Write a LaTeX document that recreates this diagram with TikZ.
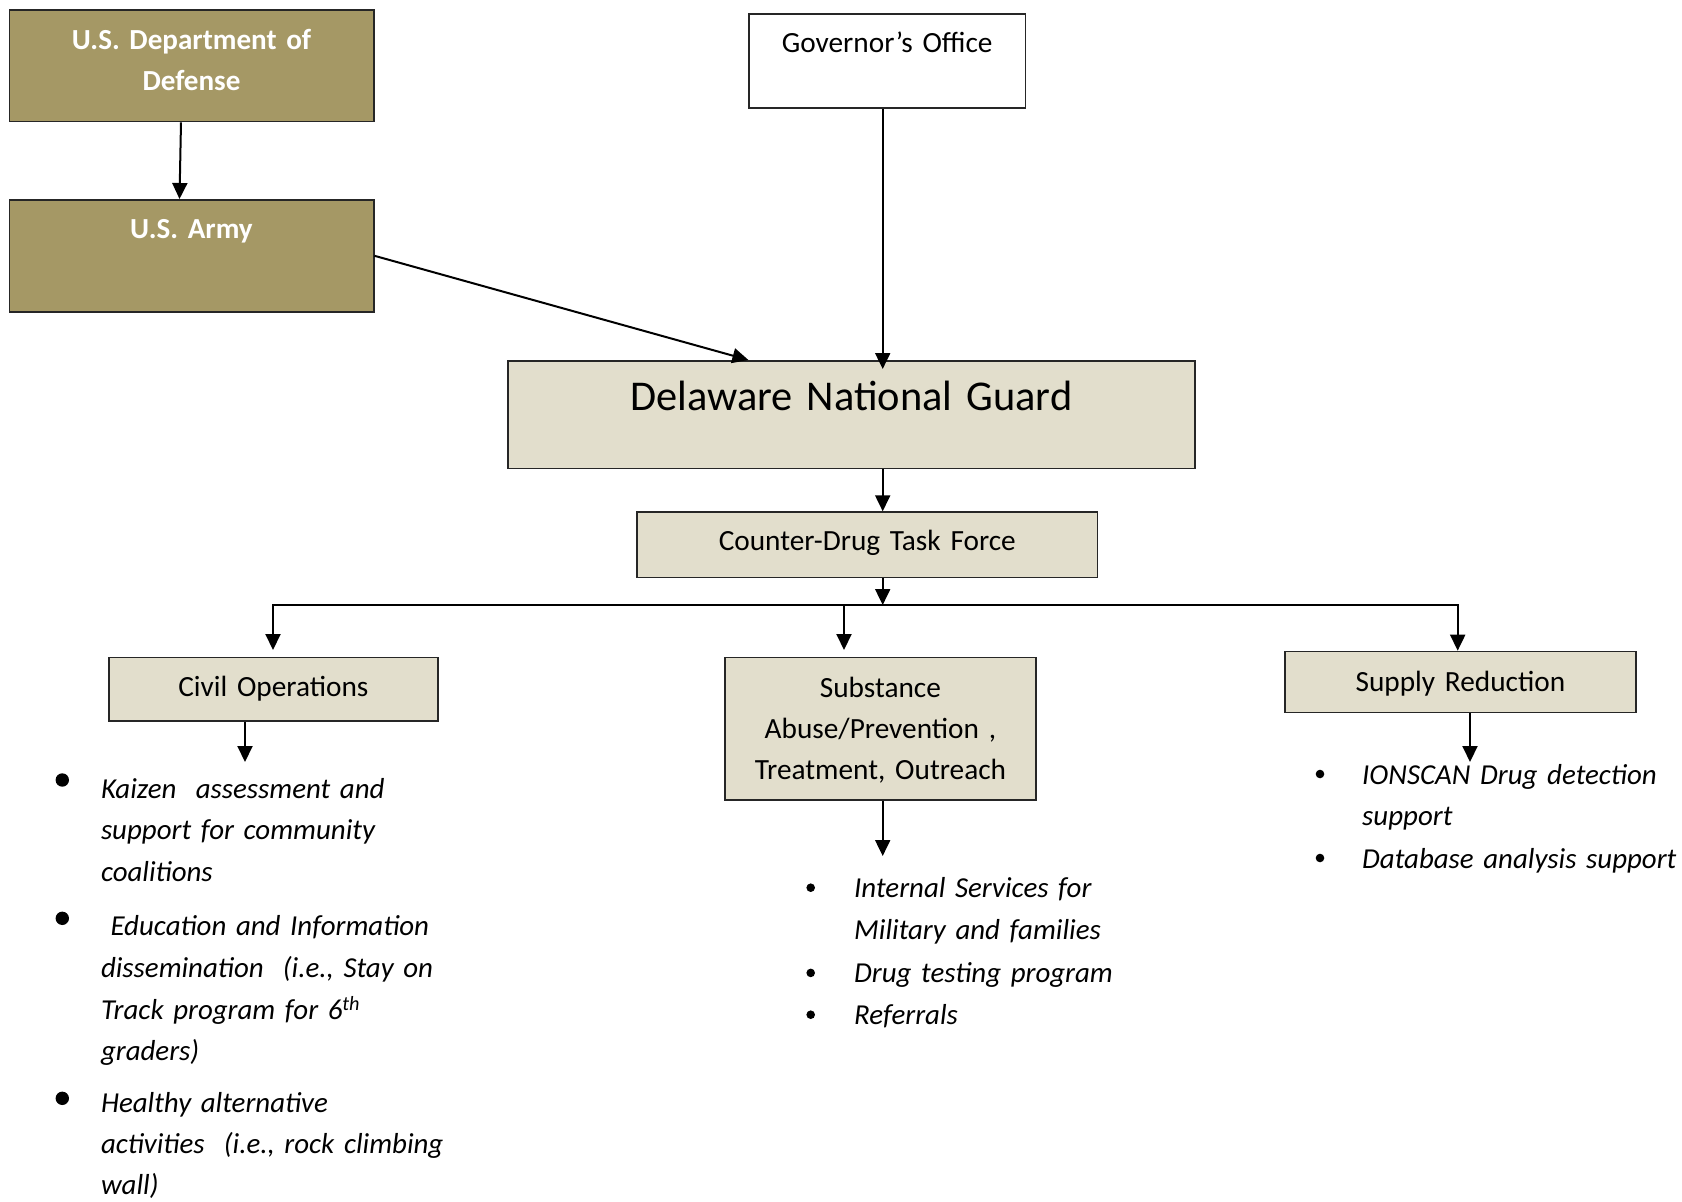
\documentclass[tikz,border=0pt]{standalone}
\usepackage{fontspec}
\setmainfont{Carlito}
\usetikzlibrary{arrows.meta}
\definecolor{dodolive}{RGB}{165,152,101}
\definecolor{tanfill}{RGB}{226,222,204}
\begin{document}
\begin{tikzpicture}[x=1pt,y=-1pt,
	box/.style={draw=black!85, line width=1.6pt, inner sep=0pt, align=center, anchor=north,
		font=\fontsize{29.3}{41}\selectfont},
	olivebox/.style={box, fill=dodolive, text=white, font=\fontsize{29.1}{41}\selectfont\bfseries},
	tanbox/.style={box, fill=tanfill},
	arr/.style={line width=2pt, -{Triangle[length=16pt,width=15pt]}},
	items/.style={inner sep=0pt, anchor=base west, align=left, text width=360pt,
		font=\fontsize{28.9}{41.8}\selectfont\itshape}]
	\path[fill=white, use as bounding box] (0,0) rectangle (1682,1202);
% boxes
	\node[olivebox, text width=364.4pt, text height=39.3pt, text depth=72.4pt] (dod) at (191.5,9) {U.S. Department of\\Defense};
	\node[olivebox, text width=364.4pt, text height=38.3pt, text depth=73.7pt] (army) at (191.5,199) {U.S. Army};
	\node[box, fill=white, text width=276.3pt, text height=38.4pt, text depth=55.6pt] (gov) at (887.2,13.3) {Governor’s Office};
	\node[tanbox, text width=687.3pt, text height=49.3pt, text depth=58.4pt, font=\fontsize{42.4}{50}\selectfont] (dng) at (851.4,360) {Delaware National Guard};
	\node[tanbox, text width=460.2pt, text height=38.7pt, text depth=26.7pt] (cdtf) at (867.3,511.3) {Counter-Drug Task Force};
	\node[tanbox, text width=328.7pt, text height=38.8pt, text depth=24.5pt] (civil) at (273.4,656.7) {Civil Operations};
	\node[tanbox, text width=310.7pt, text height=40.3pt, text depth=102.3pt] (subst) at (880.4,656.7) {Substance\\Abuse/Prevention ,\\Treatment, Outreach};
	\node[tanbox, text width=350.7pt, text height=40.3pt, text depth=20.7pt] (supply) at (1460.4,650.7) {Supply Reduction};
% arrows
	\coordinate (spine) at (882.7,0);
	\coordinate (busL) at (273,605);
	\coordinate (busM) at (844,605);
	\coordinate (busR) at (1457.7,605);
	\draw[arr] ([xshift=-10.5pt]dod.south) -- ([xshift=-12pt]army.north);
	\draw[arr] (army.east) -- ([xshift=-103pt]dng.north);
	\draw[arr, shorten >=-9pt] (spine |- gov.south) -- (spine |- dng.north);
	\draw[arr] (spine |- dng.south) -- (spine |- cdtf.north);
	\draw[arr] (spine |- cdtf.south) -- (spine |- busL);
	\draw[line width=2pt, {Triangle[length=16pt,width=15pt]}-{Triangle[length=16pt,width=15pt]}, shorten <=6.7pt]
		(busL |- civil.north) -- (busL) -- (busR) -- (busR |- supply.north);
	\draw[arr, shorten >=6.7pt] (busM) -- (busM |- subst.north);
	\coordinate (civilend) at (245,762);
	\coordinate (substend) at (882.7,856);
	\coordinate (supplyend) at (1470,762);
	\draw[arr] (civil.south -| civilend) -- (civilend);
	\draw[arr] (subst.south -| substend) -- (substend);
	\draw[arr] (supply.south -| supplyend) -- (supplyend);
% lists
	\node[items] (civ1) at (100.8,798) {Kaizen\ \ assessment and\\support for community\\coalitions};
	\node[items] (civ2) at (100.8,935.5) {\ Education and Information\\dissemination\ \ (i.e., Stay on\\Track program for 6\textsuperscript{th}\\graders)};
	\node[items, font=\fontsize{28.9}{41}\selectfont\itshape] (civ3) at (100.8,1112) {Healthy alternative\\activities\ \ (i.e., rock climbing\\wall)};
	\node[items] (sub1) at (854,897.8) {Internal Services for\\Military and families};
	\node[items] (sub2) at (854,982) {Drug testing program};
	\node[items] (sub3) at (854,1024) {Referrals};
	\node[items] (sup1) at (1362,784) {IONSCAN Drug detection\\support};
	\node[items] (sup2) at (1362,868) {Database analysis support};
	\foreach \y in {780,918.3,1098.3}
	\fill (62.3,\y) circle[radius=6.7pt];
	\foreach \y in {887.7,972.9,1014.7}
	\fill (810.7,\y) circle[radius=4.3pt];
	\foreach \y in {774,858}
	\fill (1320,\y) circle[radius=4.3pt];
\end{tikzpicture}
\end{document}
